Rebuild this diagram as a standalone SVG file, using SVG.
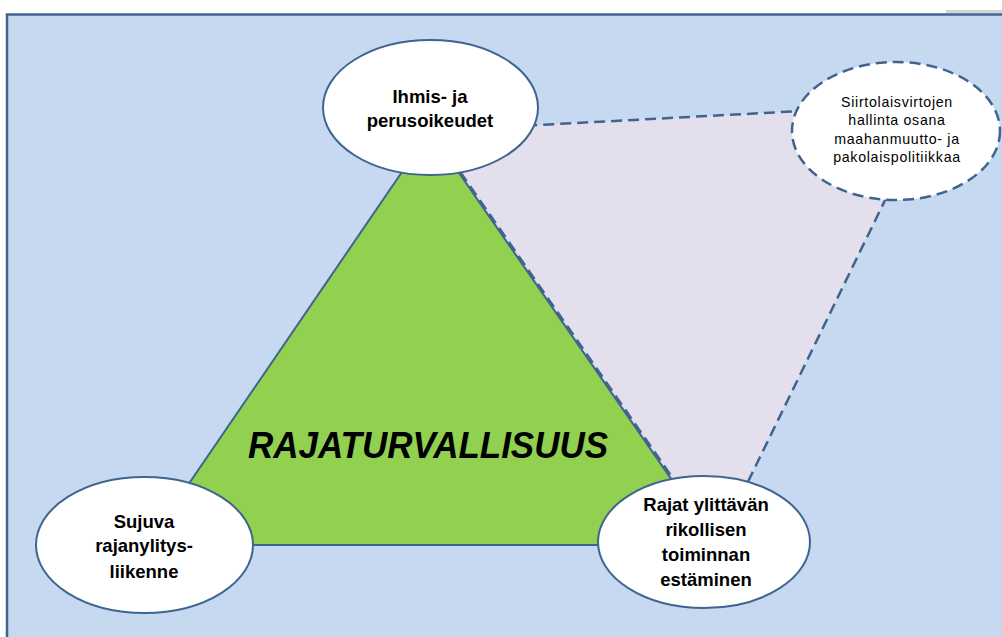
<svg xmlns="http://www.w3.org/2000/svg" width="1002" height="637" viewBox="0 0 1002 637">
<style>
.node{fill:#ffffff;stroke:#3f6490;stroke-width:2}
.dash{stroke:#3f6490;stroke-width:2.5;stroke-dasharray:11 6}
.lbl{font-family:"Liberation Sans",Arial,sans-serif;font-weight:bold;font-size:18.5px;fill:#000;text-anchor:middle}
.sm{font-family:"Liberation Sans",Arial,sans-serif;font-size:14.2px;fill:#000;text-anchor:middle;letter-spacing:0.7px}
</style>
<rect x="0" y="0" width="1002" height="637" fill="#ffffff"/>
<rect x="946" y="10" width="56" height="3" fill="#d4d4d4"/>
<rect x="7" y="14.5" width="1010" height="640" fill="#c6d9f0" stroke="#3f6490" stroke-width="2.5"/>
<g id="triangle">
<polygon points="430,131 147,545 717,545" fill="#92d050" stroke="#3f6490" stroke-width="2"/>
<text x="428" y="458" font-family="'Liberation Sans',Arial,sans-serif" font-weight="bold" font-style="italic" font-size="36" textLength="360" lengthAdjust="spacingAndGlyphs" text-anchor="middle" fill="#000">RAJATURVALLISUUS</text>
</g>
<g id="connectors">
<polygon class="dash" points="445,150 520,126 820,110 890,190 744,490 681,490" fill="#e4dfec"/>
</g>
<g id="node-ihmisoikeudet">
<ellipse class="node" cx="430.5" cy="107.5" rx="107.5" ry="67.5"/>
<text class="lbl" x="430" y="103">Ihmis- ja</text>
<text class="lbl" x="430" y="127">perusoikeudet</text>
</g>
<g id="node-siirtolais">
<ellipse class="dash" cx="896" cy="131" rx="104" ry="69" fill="#ffffff"/>
<text class="sm" x="897" y="107">Siirtolaisvirtojen</text>
<text class="sm" x="897" y="125">hallinta osana</text>
<text class="sm" x="897" y="144">maahanmuutto- ja</text>
<text class="sm" x="897" y="162">pakolaispolitiikkaa</text>
</g>
<g id="node-sujuva">
<ellipse class="node" cx="144.5" cy="545" rx="108.5" ry="68"/>
<text class="lbl" x="144" y="528">Sujuva</text>
<text class="lbl" x="144" y="552">rajanylitys-</text>
<text class="lbl" x="144" y="578">liikenne</text>
</g>
<g id="node-rikollisuus">
<ellipse class="node" cx="704" cy="542" rx="106" ry="66"/>
<text class="lbl" x="706" y="511">Rajat ylittävän</text>
<text class="lbl" x="706" y="536">rikollisen</text>
<text class="lbl" x="706" y="561">toiminnan</text>
<text class="lbl" x="706" y="586">estäminen</text>
</g>
</svg>
